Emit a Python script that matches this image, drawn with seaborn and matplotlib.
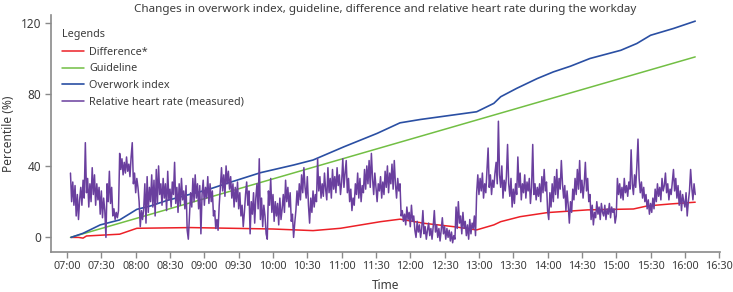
import numpy as np
import pandas as pd
import matplotlib
matplotlib.use("Agg")
import matplotlib.pyplot as plt
import matplotlib.dates as mdates
import seaborn as sns

# ---------------- data ----------------
title = "Changes in overwork index, guideline, difference and relative heart rate during the workday"
x_label = "Time"
y_label = "Percentile (%)"
legend_title = "Legends"
series_names = ["Difference*", "Guideline", "Overwork index", "Relative heart rate (measured)"]
ytick_values = [0, 40, 80, 120]
day = "2020-01-01"

# minutes after 07:00
guide_min = [3, 549]
guide_val = [0, 101]

ow_min = [3.5, 14, 29, 46, 61, 73, 87, 105, 122, 140, 169, 198, 215, 242, 271, 291, 309,
          358, 373, 379, 393, 411, 425, 440, 457, 484, 498, 510, 530, 549]
ow_val = [0, 2.3, 7, 9.8, 15.7, 17.6, 20.6, 23.7, 26.5, 30.3, 36.2, 40.5, 43.3, 50.7, 58.2,
          64.1, 66, 70.3, 75, 78.7, 83.4, 88.9, 92.6, 95.8, 100.1, 104.7, 108.5, 113.1, 116.9, 121]

diff_min = [3.5, 10, 14, 17, 46, 61, 108, 180, 215, 239, 274, 291, 312, 338, 358, 373, 379,
            396, 420, 455, 495, 507, 527, 549]
diff_val = [0, 0, -0.4, 0.8, 1.8, 5.1, 5.5, 4.7, 3.8, 5.1, 8.8, 10.2, 7.9, 6, 4.2, 7, 8.8,
            11.6, 13.9, 15.4, 15.9, 17.6, 18.7, 19.7]

# relative heart rate, one reading per minute starting 07:03
hr_start_min = 3
hr_val = [
    36, 20, 31, 18, 29, 12, 24, 10, 21, 28,
    18, 32, 22, 53, 25, 33, 17, 30, 20, 39,
    24, 35, 18, 30, 21, 28, 13, 26, 11, 22,
    15, 0, 30, 20, 37, 19, 28, 12, 16, 10,
    14, 11, 15, 47, 38, 44, 35, 42, 36, 45,
    37, 41, 34, 45, 53, 30, 36, 25, 33, 28,
    20, 6, 15, 10, 16, 30, 8, 34, 14, 28,
    20, 35, 17, 32, 12, 38, 19, 40, 24, 30,
    18, 33, 22, 30, 15, 37, 21, 27, 17, 31,
    24, 42, 19, 28, 14, 30, 18, 33, 21, 26,
    16, 29, 4, -1, 12, 25, 17, 33, 20, 35,
    22, 30, 16, 29, 2, 24, 32, 18, 28, 22,
    34, 19, 30, 20, 26, 12, 15, 5, 10, 4,
    18, 28, 39, 26, 35, 23, 40, 30, 37, 27,
    34, 22, 30, 17, 28, 20, 31, 16, 25, 12,
    18, 6, 14, 24, 31, 18, 26, 2, 20, 13,
    25, 8, 22, 30, 16, 44, 10, 22, 6, 18,
    12, 2, -1, 26, 18, 33, 14, 24, 9, 20,
    12, 19, 7, 22, 10, 16, 24, 14, 32, 20,
    28, 17, 25, 9, 13, 0, 8, 15, 26, 18,
    30, 21, 35, 25, 39, 28, 22, 34, 18, 8,
    22, 14, 26, 17, 24, 20, 44, 26, 34, 22,
    30, 23, 36, 27, 21, 39, 25, 33, 22, 38,
    27, 34, 25, 39, 29, 35, 24, 31, 44, 28,
    36, 43, 25, 33, 20, 27, 15, 22, 18, 30,
    24, 36, 22, 33, 20, 29, 25, 38, 27, 40,
    30, 43, 28, 47, 33, 24, 36, 28, 20, 30,
    26, 34, 22, 31, 24, 37, 28, 40, 25, 36,
    30, 41, 27, 43, 30, 22, 33, 26, 30, 12,
    15, 9, 13, 7, 17, 10, 14, 6, 18, 9,
    12, 4, 0, 9, 3, 7, 0, 5, 15, 2,
    6, -1, 4, 8, 1, 5, -1, 6, 15, 3,
    7, 0, 5, -2, 4, 11, 2, 6, -1, 5,
    0, 4, -2, 3, -3, 1, -1, 17, 5, 20,
    8, 12, 2, 14, 5, 9, 1, 7, -1, 10,
    2, 8, 5, 12, 1, 25, 35, 24, 33, 26,
    36, 22, 30, 25, 38, 50, 28, 35, 24, 32,
    28, 36, 42, 30, 65, 35, 28, 40, 22, 32,
    26, 34, 52, 30, 23, 33, 17, 27, 19, 30,
    24, 45, 28, 36, 21, 30, 25, 35, 22, 31,
    26, 33, 19, 28, 52, 24, 30, 21, 28, 23,
    30, 20, 34, 25, 38, 26, 31, 15, 10, 25,
    17, 30, 20, 34, 24, 38, 22, 33, 27, 43,
    30, 22, 29, 15, 26, 18, 8, 20, 14, 27,
    21, 33, 24, 38, 27, 43, 25, 32, 22, 30,
    42, 26, 33, 20, 24, 10, 18, 7, 14, 11,
    20, 13, 17, 10, 19, 14, 12, 18, 10, 16,
    13, 19, 11, 17, 14, 16, 8, 12, 33, 24,
    30, 22, 28, 21, 33, 25, 29, 23, 31, 27,
    49, 30, 24, 35, 28, 40, 55, 33, 25, 31,
    22, 28, 20, 24, 16, 21, 13, 19, 14, 22,
    16, 27, 20, 30, 23, 28, 21, 33, 26, 29,
    36, 25, 30, 21, 27, 24, 31, 38, 26, 33,
    22, 29, 18, 26, 15, 24, 20, 17, 25, 12,
    20, 26, 38, 28, 21, 30, 24,
]

colors = ["#ec2027", "#72bf44", "#2a4fa3", "#6a3f9e"]

# ---------------- plotting ----------------
sns.set_theme(style="white")
plt.rcParams["font.family"] = ["Noto Sans", "DejaVu Sans"]

base = pd.Timestamp(day + " 07:00")


def to_time(mins):
    return base + pd.to_timedelta(np.asarray(mins, dtype=float), unit="m")


hr_min = hr_start_min + np.arange(len(hr_val))
frames = [
    pd.DataFrame({"time": to_time(diff_min), "value": diff_val, "series": series_names[0]}),
    pd.DataFrame({"time": to_time(guide_min), "value": guide_val, "series": series_names[1]}),
    pd.DataFrame({"time": to_time(ow_min), "value": ow_val, "series": series_names[2]}),
    pd.DataFrame({"time": to_time(hr_min), "value": hr_val, "series": series_names[3]}),
]

fig = plt.figure(figsize=(7.33, 2.92), dpi=100)
ax = fig.add_axes([0.0696, 0.138, 0.9124, 0.811])

widths = [1.1, 1.1, 1.2, 1.1]
for df, c, w, name in zip(frames, colors, widths, series_names):
    sns.lineplot(data=df, x="time", y="value", color=c, linewidth=w, ax=ax,
                 label=name, estimator=None, sort=False)

ax.set_xlim(base - pd.Timedelta(minutes=14), base + pd.Timedelta(minutes=570.5))
ax.set_ylim(-8, 124.5)
ax.set_yticks(ytick_values)
ax.xaxis.set_major_locator(mdates.MinuteLocator(byminute=[0, 30]))
ax.xaxis.set_major_formatter(mdates.DateFormatter("%H:%M"))

text_color = "#3c3c3c"
spine_color = "#8a8a8a"
for s in ["top", "right"]:
    ax.spines[s].set_visible(False)
for s in ["left", "bottom"]:
    ax.spines[s].set_color(spine_color)
    ax.spines[s].set_linewidth(1.2)
ax.tick_params(axis="both", which="major", length=4, width=1, color=spine_color,
               labelsize=7.8, labelcolor=text_color, direction="out",
               bottom=True, left=True, pad=3)
ax.tick_params(axis="y", labelsize=8.5)

ax.set_title(title, fontsize=8.4, color=text_color, pad=2)
ax.set_xlabel(x_label, fontsize=8.6, color=text_color, labelpad=5)
ax.set_ylabel(y_label, fontsize=8.6, color=text_color, labelpad=4)

leg = ax.legend(title=legend_title, loc="upper left", bbox_to_anchor=(0.005, 0.972),
                frameon=False, fontsize=7.8, title_fontsize=7.8, handlelength=2.0,
                labelspacing=0.5, handletextpad=0.5, alignment="left",
                borderaxespad=0.3)
leg.get_title().set_color(text_color)
for t in leg.get_texts():
    t.set_color(text_color)
# a little extra gap between legend title and first entry
leg._legend_box.sep = 5

fig.savefig("out.png", dpi=100)
